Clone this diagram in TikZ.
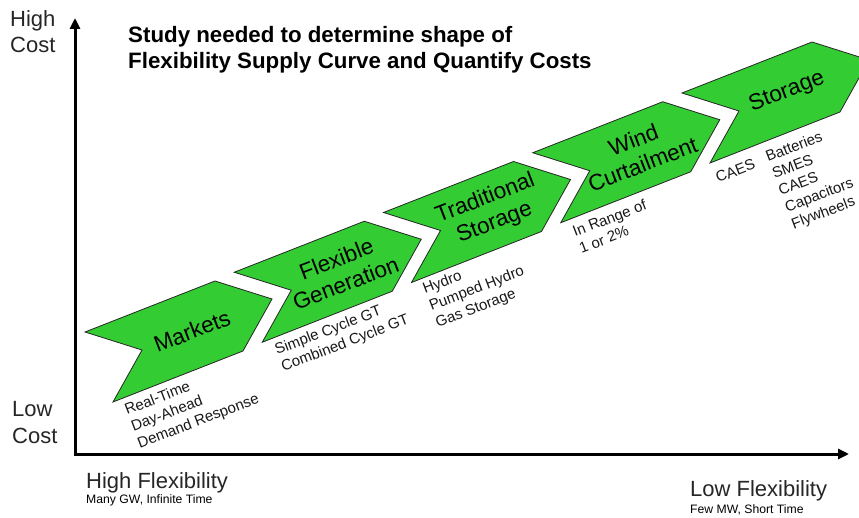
\documentclass[tikz,border=0pt]{standalone}
\usepackage{fontspec}
\setmainfont{Liberation Sans}
\usetikzlibrary{arrows.meta}
\definecolor{chevgreen}{RGB}{51,204,51}
\newcommand\chevronshape[1]{\draw[chevron] (#1) -- ++(130,-51) -- ++(57,18) -- ++(-29,52) -- ++(-130,51) -- ++(29,-52) -- cycle;}
\begin{document}
\begin{tikzpicture}[x=1pt,y=-1pt,
  chevron/.style={fill=chevgreen, draw=black!85, line width=0.8pt, line join=miter},
  chevtext/.style={rotate=21, align=center, inner sep=0pt, font=\fontsize{22.5}{26}\selectfont},
  sublabel/.style={rotate=21, anchor=base west, inner sep=0pt, font=\fontsize{15}{18}\selectfont, text=black!90},
  axis/.style={line width=3pt, line join=miter, {Triangle[length=11pt,width=10pt]}-{Triangle[length=11pt,width=10pt]}},
  axlabel/.style={anchor=base west, inner sep=0pt, font=\fontsize{22}{26}\selectfont, text=black!85},
  axsmall/.style={anchor=base west, inner sep=0pt, font=\fontsize{12.2}{14}\selectfont},
  titletext/.style={anchor=base west, inner sep=0pt, font=\bfseries\fontsize{22.3}{26}\selectfont}]
\useasboundingbox (0,0) rectangle (859,518);
\clip (0,0) rectangle (859,518);
\fill[white] (0,0) rectangle (859,518);

% axes
\coordinate (ytop) at (75,18);
\coordinate (origin) at (75,454);
\coordinate (xend) at (849,454);
\draw[axis] (ytop) -- (origin) -- (xend);

% title
\node[titletext] (t1) at (128,43) {Study needed to determine shape of};
\node[titletext] (t2) at (128,69) {Flexibility Supply Curve and Quantify Costs};

% axis labels
\node[axlabel] (hc1) at (10,27) {High};
\node[axlabel] (hc2) at (10,53) {Cost};
\node[axlabel] (lc1) at (12,416) {Low};
\node[axlabel] (lc2) at (12,443) {Cost};
\node[axlabel] (hf) at (86,488) {High Flexibility};
\node[axsmall] (hfs) at (86,503) {Many GW, Infinite Time};
\node[axlabel] (lf) at (690,496) {Low Flexibility};
\node[axsmall] (lfs) at (690,513) {Few MW, Short Time};

% chevrons
\coordinate (c1) at (85,332);
\coordinate (c2) at (234.25,272.25);
\coordinate (c3) at (383.5,212.5);
\coordinate (c4) at (532.75,152.75);
\coordinate (c5) at (682,93);
\chevronshape{c1}
\chevronshape{c2}
\chevronshape{c3}
\chevronshape{c4}
\chevronshape{c5}

\node[chevtext] (mk) at (192,331) {Markets};
\node[chevtext] (fg) at (341,271) {Flexible\\Generation};
\node[chevtext] (ts) at (490,211) {Traditional\\Storage};
\node[chevtext] (wc) at (638,152) {Wind\\Curtailment};
\node[chevtext] (st) at (787,92) {Storage};

% sub labels
\node[sublabel] (m1) at (127,415) {Real-Time};
\node[sublabel] (m2) at (133.4,431.8) {Day-Ahead};
\node[sublabel] (m3) at (139.8,448.6) {Demand Response};

\node[sublabel] (g1) at (277,355) {Simple Cycle GT};
\node[sublabel] (g2) at (283.4,371.8) {Combined Cycle GT};

\node[sublabel] (h1) at (425,294) {Hydro};
\node[sublabel] (h2) at (431.4,310.8) {Pumped Hydro};
\node[sublabel] (h3) at (437.8,327.6) {Gas Storage};

\node[sublabel] (w1) at (575,237) {In Range of};
\node[sublabel] (w2) at (581.4,253.8) {1 or 2\%};

\node[sublabel] (s0) at (718,183) {CAES};
\node[sublabel] (s1) at (768,162) {Batteries};
\node[sublabel] (s2) at (774.4,178.8) {SMES};
\node[sublabel] (s3) at (780.8,195.6) {CAES};
\node[sublabel] (s4) at (787.2,212.4) {Capacitors};
\node[sublabel] (s5) at (793.6,229.2) {Flywheels};
\end{tikzpicture}
\end{document}
